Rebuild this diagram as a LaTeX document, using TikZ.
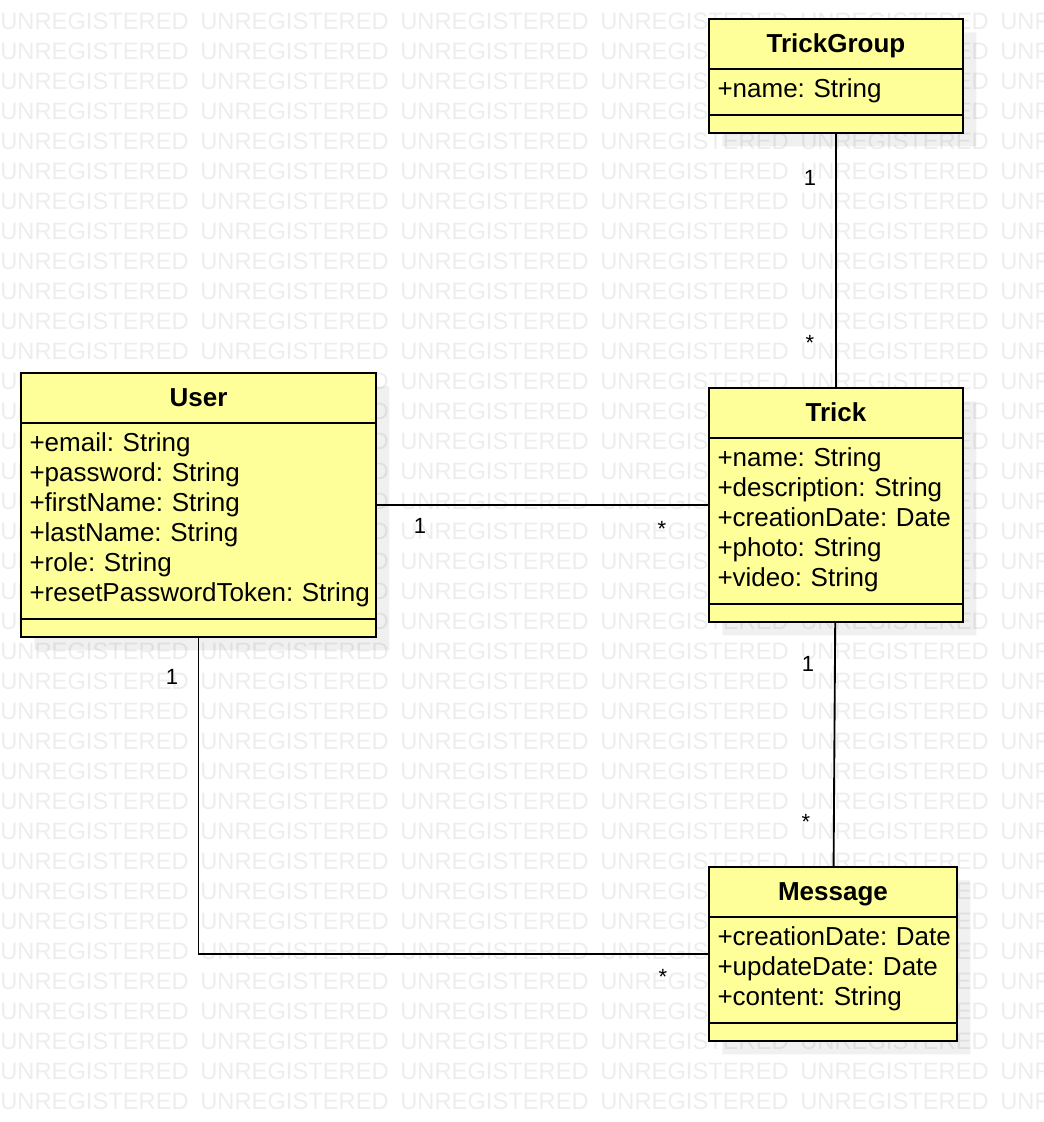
\documentclass[tikz,border=0pt]{standalone}
\usepackage{fontspec}
\setmainfont{Liberation Sans}
\usetikzlibrary{positioning,shapes.multipart,shadows}

\definecolor{umlyellow}{HTML}{FFFF99}
\definecolor{wmgray}{HTML}{EDEDED}
\setlength{\parindent}{0pt}
\frenchspacing

\newcommand{\cname}[1]{\makebox[\hsize]{\rule[-6.75pt]{0pt}{25.5pt}\textbf{#1}}}
\newcommand{\attr}[1]{\rule[-7.5pt]{0pt}{22.5pt}\mbox{#1}\par}
\newcommand{\nops}{\rule{0pt}{1.5pt}}

\tikzset{
  umlclass/.style={rectangle split, rectangle split parts=3, draw, line width=1.5pt,
    fill=umlyellow, inner xsep=6.375pt, inner ysep=5.25pt, align=left,
    font=\fontsize{19.5pt}{22.5pt}\selectfont,
    drop shadow={shadow xshift=10pt, shadow yshift=-10pt, fill=black, opacity=0.06}},
  assoc/.style={draw, line width=1.4pt},
  mult/.style={inner sep=0pt, font=\fontsize{16.5pt}{20pt}\selectfont},
  watermark/.style={anchor=west, inner sep=0pt, text=wmgray,
    font=\fontsize{17.8pt}{20pt}\selectfont}
}

\begin{document}
\begin{tikzpicture}[x=0.75pt, y=-0.75pt]
  \useasboundingbox (0,0) rectangle (1044,1122);

  % watermark
  \begin{scope}
    \clip (0,0) rectangle (1044,1122);
    \foreach \r in {0,...,36}
      \foreach \c in {0,...,5}
        \node[watermark] (wm-\r-\c) at (200*\c, 21+30*\r) {UNREGISTERED};
  \end{scope}

  % classes
  \node[umlclass, text width=253.5pt, anchor=north west] (User) at (20,372)
    {\cname{User}
     \nodepart{two}\attr{+email: String}\attr{+password: String}\attr{+firstName: String}%
       \attr{+lastName: String}\attr{+role: String}\attr{+resetPasswordToken: String}
     \nodepart{three}\nops};
  \node[umlclass, text width=177.75pt, right=248.25pt of User] (Trick)
    {\cname{Trick}
     \nodepart{two}\attr{+name: String}\attr{+description: String}\attr{+creationDate: Date}%
       \attr{+photo: String}\attr{+video: String}
     \nodepart{three}\nops};
  \node[umlclass, text width=177.75pt, above=189.75pt of Trick] (TrickGroup)
    {\cname{TrickGroup}
     \nodepart{two}\attr{+name: String}
     \nodepart{three}\nops};
  \node[umlclass, text width=173.25pt, below=182.25pt of Trick.south west, anchor=north west] (Message)
    {\cname{Message}
     \nodepart{two}\attr{+creationDate: Date}\attr{+updateDate: Date}\attr{+content: String}
     \nodepart{three}\nops};

  % associations
  \draw[assoc] (TrickGroup) -- (Trick);
  \draw[assoc] (User) -- (Trick);
  \draw[assoc] (Trick) -- (Message);
  \draw[assoc] (User) |- (Message);

  % multiplicities
  \node[mult] (tg-one)  at (810,178) {1};
  \node[mult] (tg-many) at (810,343) {*};
  \node[mult] (ut-one)  at (420,526) {1};
  \node[mult] (ut-many) at (662,529) {*};
  \node[mult] (tm-one)  at (808,664) {1};
  \node[mult] (tm-many) at (806,822) {*};
  \node[mult] (um-one)  at (172,677) {1};
  \node[mult] (um-many) at (663,977) {*};
\end{tikzpicture}
\end{document}
